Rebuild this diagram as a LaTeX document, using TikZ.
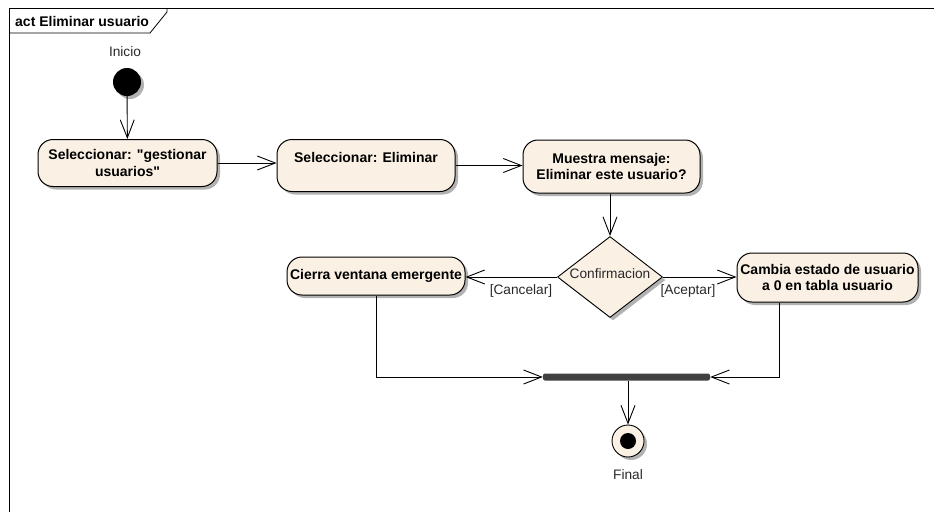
\documentclass[tikz,border=0pt]{standalone}
\usepackage{fontspec}
\setmainfont{Liberation Sans}[Ligatures=TeXOff]
\usetikzlibrary{arrows.meta,shapes.geometric,shadows}
\definecolor{actfill}{RGB}{250,241,228}
\definecolor{barcol}{RGB}{64,64,64}
\definecolor{txtgray}{RGB}{40,40,40}
\begin{document}
\begin{tikzpicture}[x=1pt,y=-1pt,
  every node/.style={font=\fontsize{13.7}{16}\selectfont, text=txtgray},
  shade/.style={drop shadow={shadow xshift=3pt, shadow yshift=-3pt, fill=black, opacity=0.3}},
  flow/.style={draw=black, line width=0.9pt,
    -{Straight Barb[length=18pt,width=14pt,line width=0.9pt]}},
  action/.style={draw=black, line width=1pt, fill=actfill, rounded corners=15pt,
    align=center, inner sep=1pt, shade, text=black,
    font=\bfseries\fontsize{14}{16.5}\selectfont},
  decision/.style={diamond, draw=black, line width=0.9pt, fill=actfill,
    minimum width=105pt, minimum height=81pt, inner sep=0pt, shade},
  guard/.style={font=\fontsize{13.7}{16}\selectfont, inner sep=0pt}
]
\useasboundingbox (0,0) rectangle (934,512);

% diagram frame with its name tab
\draw[line width=0.8pt] (9,512) -- (9,8) -- (934,8);
\draw[line width=0.8pt] (9,33) -- (150,33) -- (167,12) -- (167,8);
\node[anchor=west, inner sep=0pt, text=black, font=\bfseries\fontsize{14}{16}\selectfont]
  (title) at (15,21) {act Eliminar usuario};

% initial node
\node (linicio) at (125,52) {Inicio};
\node[circle, fill=black, minimum size=28pt, inner sep=0pt, shade] (init) at (127,82) {};

% actions
\node[action, minimum width=179pt, minimum height=47pt] (b1) at (127.5,163)
  {Seleccionar: "gestionar\\usuarios"};
\node[action, minimum width=178pt, minimum height=52pt, text depth=16pt] (b2) at (366,165.5)
  {Seleccionar: Eliminar};
\node[action, minimum width=177pt, minimum height=53pt] (b3) at (611.5,166.5)
  {Muestra mensaje:\\Eliminar este usuario?};
\node[action, minimum width=178pt, minimum height=38pt] (cierra) at (376,276)
  {Cierra ventana emergente};
\node[action, minimum width=181pt, minimum height=49pt] (cambia) at (827.5,277.5)
  {Cambia estado de usuario\\a 0 en tabla usuario};

% decision
\node[decision] (dec) at (610,277) {};
\node[inner sep=0pt] (conf) at (610,274) {Confirmacion};
\node[guard] (lcanc) at (521,291) {[Cancelar]};
\node[guard] (lacep) at (688,291) {[Aceptar]};

% join bar
\node[fill=barcol, rounded corners=2pt, minimum width=167pt, minimum height=7pt,
  inner sep=0pt] (bar) at (626.5,377) {};

% final node
\node[circle, draw=black, line width=0.9pt, fill=actfill, minimum size=32pt,
  inner sep=0pt, shade] (fin) at (628,441) {};
\node[circle, fill=black, minimum size=16pt, inner sep=0pt] (finin) at (fin) {};
\node (lfinal) at (628,475) {Final};

% connectors
\coordinate (cbout) at ([xshift=-48.5pt]cambia.south);
\draw[flow] (init) -- (b1);
\draw[flow] (b1.east) -- (b2.west |- b1.east);
\draw[flow] (b2.east) -- (b3.west |- b2.east);
\draw[flow] (b3.south -| dec.north) -- (dec.north);
\draw[flow] (dec.west) -- (cierra.east |- dec.west);
\draw[flow] (dec.east) -- (cambia.west |- dec.east);
\draw[flow] (cierra.south) |- (bar.west);
\draw[flow] (cbout) |- (bar.east);
\draw[flow] (bar.south -| fin.north) -- (fin.north);
\end{tikzpicture}
\end{document}
